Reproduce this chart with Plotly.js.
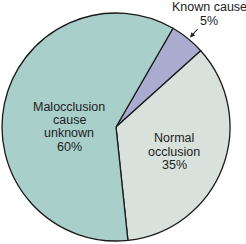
<!DOCTYPE html>
<html>
<head>
<meta charset="utf-8">
<script src="https://cdn.plot.ly/plotly-3.0.1.min.js"></script>
<style>html,body{margin:0;padding:0;background:#fff;}#chart{width:246px;height:244px;}</style>
</head>
<body>
<div id="chart"></div>
<script>
const categories = ['Known cause', 'Normal occlusion', 'Malocclusion cause unknown'];
const values = [5, 35, 60];
const sliceColors = ['#a9abcf', '#d9e1dd', '#a9cfcb'];
const labelLines = [
  ['Known cause', '5%'],
  ['Normal', 'occlusion', '35%'],
  ['Malocclusion', 'cause', 'unknown', '60%']
];

const W = 246, H = 244;
const px = x => x / W;
const py = y => 1 - y / H;

// label anchor (center of first line) and line step, in pixels
const labelPos = [
  {x: 209, y: 7, step: 14.3},
  {x: 174, y: 138.3, step: 13.4},
  {x: 69.3, y: 106.7, step: 13.35}
];

const annotations = [];
labelLines.forEach((lines, i) => {
  lines.forEach((t, j) => {
    annotations.push({
      xref: 'paper', yref: 'paper',
      x: px(labelPos[i].x), y: py(labelPos[i].y + j * labelPos[i].step),
      xanchor: 'center', yanchor: 'middle',
      text: t, showarrow: false,
      font: {family: 'Liberation Sans, Arial, sans-serif', size: 12.5, color: '#222'}
    });
  });
});
// arrow for the small slice
annotations.push({
  xref: 'paper', yref: 'paper',
  x: px(190), y: py(37.5), ax: 9, ay: -10,
  text: '', showarrow: true, arrowhead: 2, arrowsize: 0.9, arrowwidth: 1.1, arrowcolor: '#222'
});

const trace = {
  type: 'pie',
  labels: categories,
  values: values,
  sort: false,
  direction: 'clockwise',
  rotation: 30,
  textinfo: 'none',
  hoverinfo: 'none',
  showlegend: false,
  marker: {colors: sliceColors, line: {color: '#1a1a1a', width: 1.3}},
  domain: {x: [2 / W, 230 / W], y: [3 / H, 231 / H]}
};

Plotly.newPlot('chart', [trace], {
  width: W, height: H,
  margin: {l: 0, r: 0, t: 0, b: 0},
  paper_bgcolor: '#fff',
  showlegend: false,
  annotations: annotations
}, {staticPlot: true, displayModeBar: false});
</script>
</body>
</html>
